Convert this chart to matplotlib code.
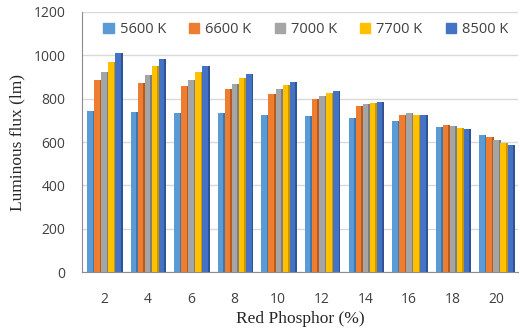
import matplotlib.pyplot as plt
import numpy as np

# Red phosphor concentration (%) and luminous flux (lm) per colour temperature
phosphor = ['2', '4', '6', '8', '10', '12', '14', '16', '18', '20']
cct_labels = ['5600 K', '6600 K', '7000 K', '7700 K', '8500 K']
flux_5600 = [742, 739, 736, 732, 727, 721, 712, 697, 670, 633]
flux_6600 = [888, 873, 858, 843, 823, 797, 767, 727, 679, 621]
flux_7000 = [923, 908, 888, 868, 843, 812, 777, 732, 676, 611]
flux_7700 = [969, 949, 923, 894, 864, 827, 782, 727, 667, 597]
flux_8500 = [1009, 982, 951, 915, 877, 835, 783, 723, 658, 585]

series = [flux_5600, flux_6600, flux_7000, flux_7700, flux_8500]
colors = ['#5B9BD5', '#ED7D31', '#A5A5A5', '#FFC000', '#4472C4']
sides = ['#3F77AC', '#B85A1E', '#7E7E7E', '#C79500', '#2E5496']

fig = plt.figure(figsize=(5.2, 3.33), dpi=100)
ax = fig.add_axes([0.158, 0.183, 0.838, 0.781])

x = np.arange(len(phosphor))
step = 0.162
face_w = 0.125
side_w = 0.04
for i, (vals, c, s) in enumerate(zip(series, colors, sides)):
    pos = x + (i - 2) * step
    ax.bar(pos, vals, width=face_w, color=c, label=cct_labels[i], zorder=3)
    # darker strip on the right gives the bars a bit of depth
    ax.bar(pos + face_w / 2 + side_w / 2, vals, width=side_w, color=s, zorder=3)

ax.set_xlim(-0.5, 9.5)
ax.set_ylim(0, 1200)
ax.set_yticks(range(0, 1201, 200))
ax.set_xticks(x)
ax.set_xticklabels(phosphor)
ax.yaxis.grid(True, color='#D9D9D9', linewidth=1, zorder=0)
ax.tick_params(length=0, labelsize=10, labelcolor='#404040')
ax.tick_params(axis='y', pad=12)
ax.tick_params(axis='x', pad=14)
for lab in ax.get_xticklabels() + ax.get_yticklabels():
    lab.set_family('Open Sans')

for sp in ['top', 'right']:
    ax.spines[sp].set_visible(False)
ax.spines['left'].set_color('#8C8C8C')
ax.spines['bottom'].set_color('#8C8C8C')

ax.set_ylabel('Luminous flux (lm)', family='Liberation Serif', fontsize=12.5,
              color='#262626', labelpad=6)
ax.set_xlabel('Red Phosphor (%)', family='Liberation Serif', fontsize=12.5,
              color='#262626', labelpad=3)

handles = [plt.Rectangle((0, 0), 1, 1, color=c) for c in colors]
ax.legend(handles, cct_labels, ncol=5, loc='center', bbox_to_anchor=(0.513, 0.932),
          frameon=False, handlelength=0.7, handleheight=0.7, handletextpad=0.4,
          columnspacing=1.6, prop={'family': 'Open Sans', 'size': 10.5},
          labelcolor='#404040', facecolor='white')

fig.savefig('out.png', dpi=100)
